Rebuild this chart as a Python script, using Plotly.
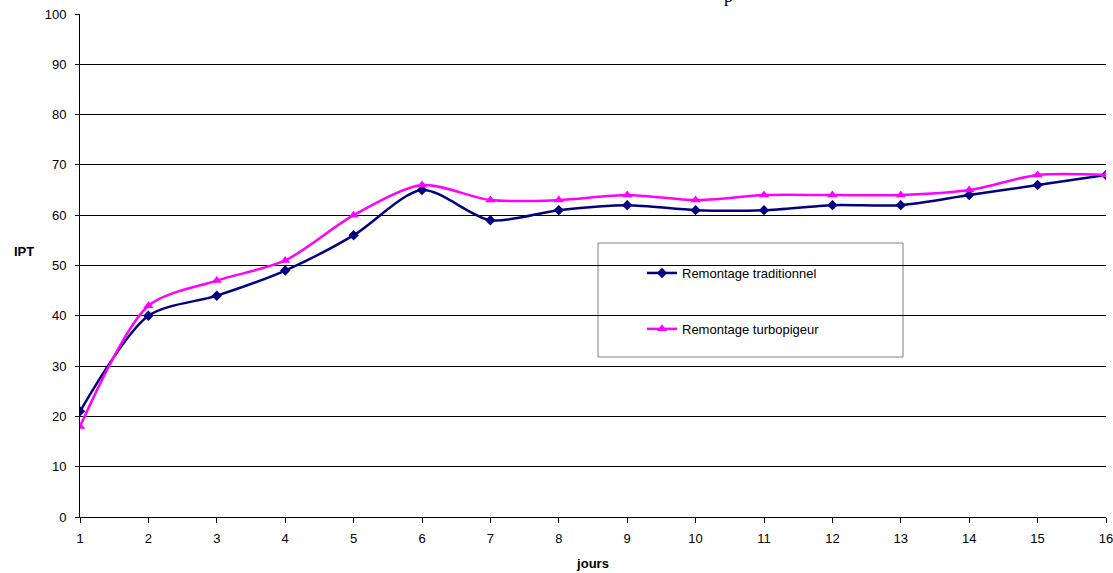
import plotly.graph_objects as go

days = list(range(1, 17))
traditionnel = [21, 40, 44, 49, 56, 65, 59, 61, 62, 61, 61, 62, 62, 64, 66, 68]
turbopigeur = [18, 42, 47, 51, 60, 66, 63, 63, 64, 63, 64, 64, 64, 65, 68, 68]
y_ticks = list(range(0, 101, 10))
x_ticks = days

L, R, T, B = 80, 7, 14, 56
W, H = 1113, 573
pw, ph = W - L - R, H - T - B

def px(xpix):
    return (xpix - L) / pw

def py(ypix):
    return (H - B - ypix) / ph

fig = go.Figure()
fig.add_trace(go.Scatter(
    x=days, y=traditionnel, name="Remontage traditionnel", mode="lines+markers",
    line=dict(color="#000080", width=2.5, shape="spline", smoothing=0.8),
    marker=dict(symbol="diamond", size=8, color="#000080"),
    legendgroup="a",
))
fig.add_trace(go.Scatter(
    x=days, y=turbopigeur, name="Remontage turbopigeur", mode="lines+markers",
    line=dict(color="#FF00FF", width=2.5, shape="spline", smoothing=0.8),
    marker=dict(symbol="triangle-up", size=9, color="#FF00FF"),
    legendgroup="b",
))

fig.add_shape(type="rect", xref="paper", yref="paper",
              x0=px(598), x1=px(903), y0=py(357), y1=py(243),
              line=dict(color="#808080", width=1), fillcolor="white", layer="below")

fig.add_annotation(text="p", xref="paper", yref="paper", x=px(728), y=py(-4),
                   xanchor="center", yanchor="middle", showarrow=False,
                   font=dict(family="Liberation Serif", size=18, color="black"))

fig.add_annotation(text="<b>IPT</b>", xref="paper", yref="paper", x=px(24), y=py(251),
                   xanchor="center", yanchor="middle", showarrow=False,
                   font=dict(size=13, color="black"))

fig.update_layout(
    width=W, height=H,
    margin=dict(l=L, r=R, t=T, b=B, autoexpand=False),
    paper_bgcolor="white", plot_bgcolor="white",
    font=dict(family="Liberation Sans, Arial", size=13, color="black"),
    legend=dict(x=px(642), y=py(258), xanchor="left", yanchor="top",
                bgcolor="rgba(0,0,0,0)", borderwidth=0,
                font=dict(size=13), tracegroupgap=36, traceorder="grouped"),
    xaxis=dict(range=[1, 16], tickvals=x_ticks, showgrid=False, zeroline=False,
               showline=True, linecolor="black", linewidth=1,
               ticks="outside", ticklen=5, tickcolor="black", ticklabelstandoff=4,
               ticklabeloverflow="allow",
               title=dict(text="<b>jours</b>", font=dict(size=13), standoff=14)),
    yaxis=dict(range=[0, 100], tickvals=y_ticks, showgrid=True, gridcolor="black",
               gridwidth=1, zeroline=False, showline=True, linecolor="black",
               linewidth=1, ticks="outside", ticklen=4, tickcolor="black",
               ticklabelstandoff=6, ticklabeloverflow="allow"),
)

fig.write_html("out.html")
